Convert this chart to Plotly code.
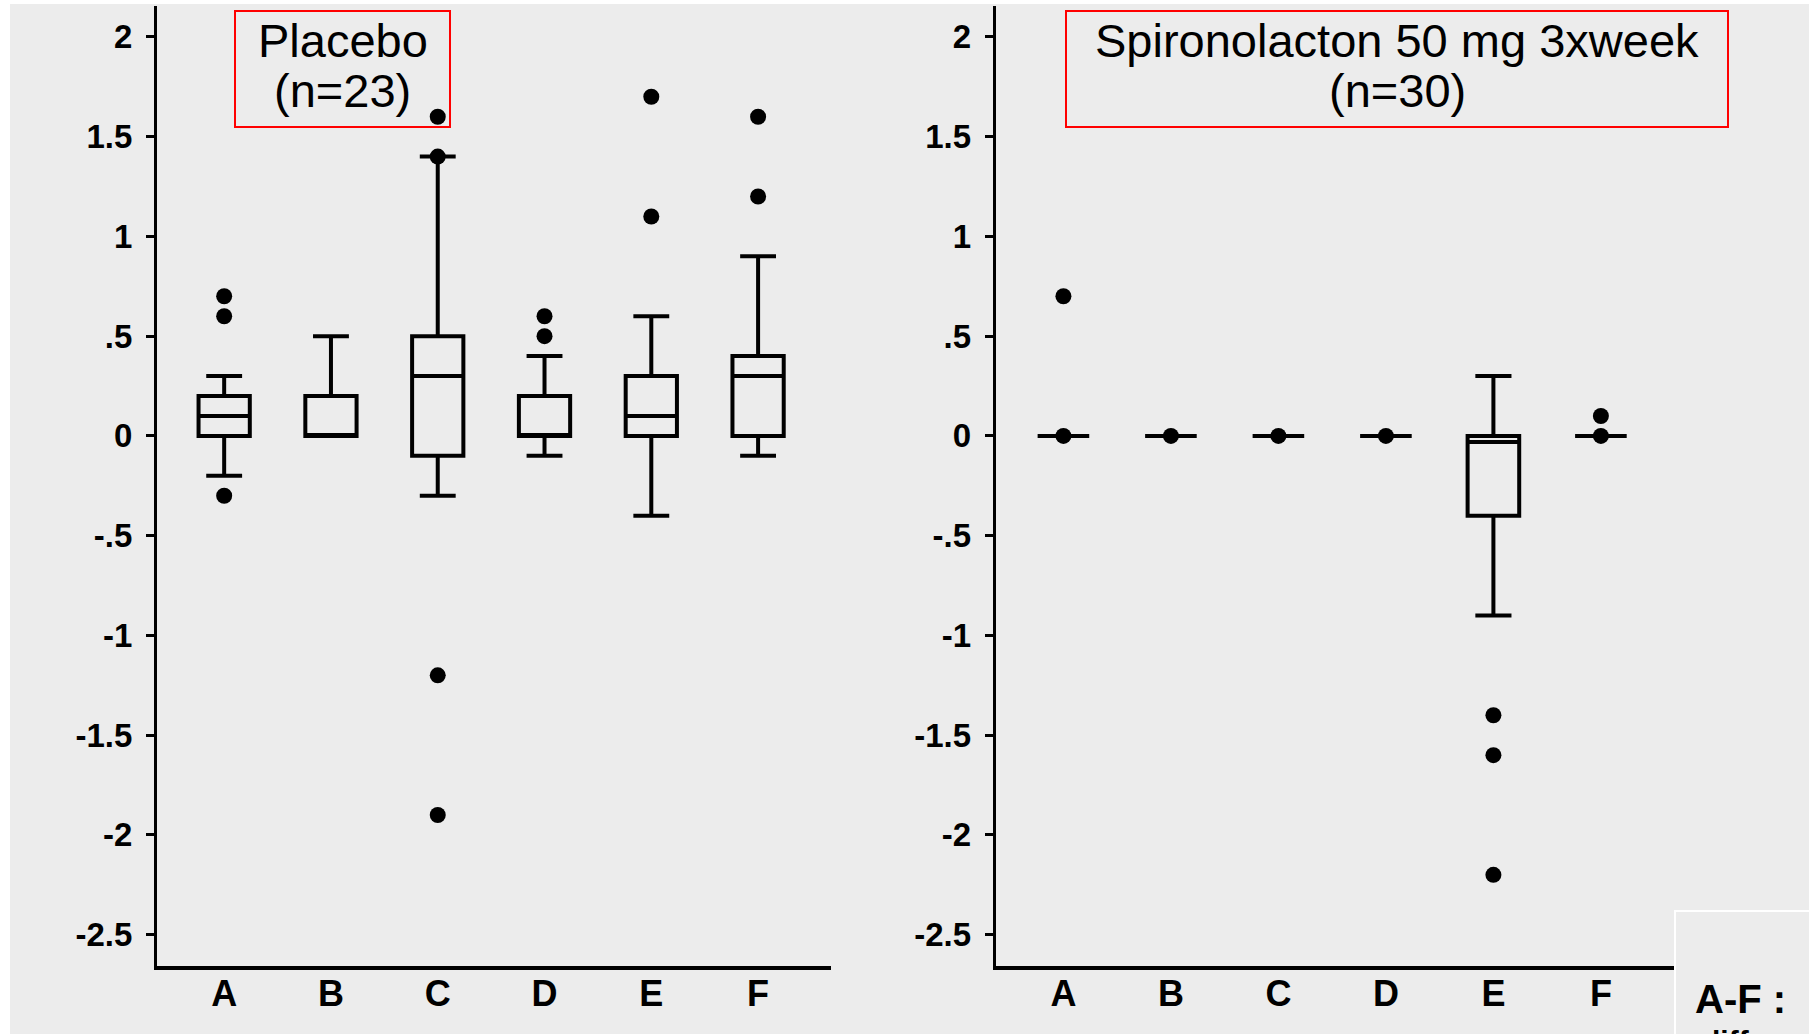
import plotly.graph_objects as go

# ---- data -------------------------------------------------------------
categories = ["A", "B", "C", "D", "E", "F"]

# Placebo group (n=23): box statistics per category
placebo_q1 = [0.0, 0.0, -0.1, 0.0, 0.0, 0.0]
placebo_median = [0.1, 0.0, 0.3, 0.0, 0.1, 0.3]
placebo_q3 = [0.2, 0.2, 0.5, 0.2, 0.3, 0.4]
placebo_lower = [-0.2, 0.0, -0.3, -0.1, -0.4, -0.1]
placebo_upper = [0.3, 0.5, 1.4, 0.4, 0.6, 0.9]
placebo_out_x = ["A", "A", "A", "C", "C", "C", "C", "D", "D", "E", "E", "F", "F"]
placebo_out_y = [0.7, 0.6, -0.3, 1.6, 1.4, -1.2, -1.9, 0.6, 0.5, 1.7, 1.1, 1.6, 1.2]

# Spironolacton group (n=30)
spiro_q1 = [0.0, 0.0, 0.0, 0.0, -0.4, 0.0]
spiro_median = [0.0, 0.0, 0.0, 0.0, -0.03, 0.0]
spiro_q3 = [0.0, 0.0, 0.0, 0.0, 0.0, 0.0]
spiro_lower = [0.0, 0.0, 0.0, 0.0, -0.9, 0.0]
spiro_upper = [0.0, 0.0, 0.0, 0.0, 0.3, 0.0]
spiro_out_x = ["A", "A", "B", "C", "D", "F", "F", "E", "E", "E"]
spiro_out_y = [0.7, 0.0, 0.0, 0.0, 0.0, 0.0, 0.1, -1.4, -1.6, -2.2]

y_tickvals = [2, 1.5, 1, 0.5, 0, -0.5, -1, -1.5, -2, -2.5]
y_ticktext = ["2", "1.5", "1", ".5", "0", "-.5", "-1", "-1.5", "-2", "-2.5"]

panel_titles = [("Placebo", "(n=23)"), ("Spironolacton 50 mg 3xweek", "(n=30)")]

# ---- figure -----------------------------------------------------------
W, H = 1809, 1034
FONT = "Liberation Sans, Arial, Helvetica, sans-serif"
BG = "#ececec"


def px_x(v):
    return v / W


def px_y(v):
    return 1 - v / H


fig = go.Figure()

groups = [
    (placebo_q1, placebo_median, placebo_q3, placebo_lower, placebo_upper,
     placebo_out_x, placebo_out_y, "x", "y"),
    (spiro_q1, spiro_median, spiro_q3, spiro_lower, spiro_upper,
     spiro_out_x, spiro_out_y, "x2", "y2"),
]

for q1, med, q3, lo, hi, ox, oy, xa, ya in groups:
    fig.add_trace(go.Box(
        x=categories, q1=q1, median=med, q3=q3,
        lowerfence=lo, upperfence=hi,
        width=0.48, whiskerwidth=0.7,
        line=dict(color="black", width=4),
        fillcolor="rgba(0,0,0,0)",
        boxpoints=False, showlegend=False,
        xaxis=xa, yaxis=ya,
    ))
    fig.add_trace(go.Scatter(
        x=ox, y=oy, mode="markers",
        marker=dict(color="black", size=16),
        showlegend=False, xaxis=xa, yaxis=ya,
    ))

y_dom = [px_y(965.6), px_y(5.8)]
x_doms = [[px_x(156.9), px_x(830.7)], [px_x(995.7), px_x(1674.0)]]

xaxis_common = dict(
    type="category", categoryorder="array", categoryarray=categories,
    range=[-0.63, 5.68], showline=True, linecolor="black", linewidth=4,
    ticks="", showgrid=False, zeroline=False, ticklabelstandoff=-7,
    tickfont=dict(family=FONT, size=36, color="black", weight="bold"),
)
yaxis_common = dict(
    range=[-2.655, 2.156], domain=y_dom, showline=True, linecolor="black",
    linewidth=3, ticks="outside", ticklen=8, tickwidth=3, tickcolor="black",
    tickvals=y_tickvals, ticktext=y_ticktext, showgrid=False, zeroline=False,
    ticklabelstandoff=7,
    tickfont=dict(family=FONT, size=33, color="black", weight="bold"),
)

fig.update_layout(
    width=W, height=H,
    margin=dict(l=0, r=0, t=0, b=0),
    paper_bgcolor="white", plot_bgcolor="rgba(0,0,0,0)",
    xaxis=dict(xaxis_common, domain=x_doms[0], anchor="y"),
    yaxis=dict(yaxis_common, anchor="x"),
    xaxis2=dict(xaxis_common, domain=x_doms[1], anchor="y2"),
    yaxis2=dict(yaxis_common, anchor="x2"),
)

shapes = [
    # grey page background with thin white strip at left/top
    dict(type="rect", xref="paper", yref="paper", x0=px_x(10), x1=1.0,
         y0=0.0, y1=px_y(4), fillcolor=BG, line=dict(width=0), layer="below"),
    # red title frames
    dict(type="rect", xref="paper", yref="paper", x0=px_x(235), x1=px_x(450),
         y0=px_y(127), y1=px_y(11), line=dict(color="#ff0000", width=2)),
    dict(type="rect", xref="paper", yref="paper", x0=px_x(1066), x1=px_x(1728),
         y0=px_y(127), y1=px_y(11), line=dict(color="#ff0000", width=2)),
    # white frame of the footnote box in the corner
    dict(type="rect", xref="paper", yref="paper", x0=px_x(1675), x1=1.02,
         y0=-0.02, y1=px_y(911), line=dict(color="white", width=2)),
]
fig.update_layout(shapes=shapes)

annotations = []
centers = [342.5, 1397.0]
for (line1, line2), cx in zip(panel_titles, centers):
    annotations.append(dict(
        text=line1, xref="paper", yref="paper", x=px_x(cx), y=px_y(41),
        xanchor="center", yanchor="middle", showarrow=False,
        font=dict(family=FONT, size=47, color="black"),
    ))
    annotations.append(dict(
        text=line2, xref="paper", yref="paper", x=px_x(cx), y=px_y(90),
        xanchor="center", yanchor="middle", showarrow=False,
        font=dict(family=FONT, size=47, color="black"),
    ))

annotations.append(dict(
    text="A-F :", xref="paper", yref="paper", x=px_x(1693), y=px_y(999),
    xanchor="left", yanchor="middle", showarrow=False,
    font=dict(family=FONT, size=40, color="black", weight="bold"),
))
annotations.append(dict(
    text="differences", xref="paper", yref="paper", x=px_x(1700), y=px_y(1041),
    xanchor="left", yanchor="middle", showarrow=False,
    font=dict(family=FONT, size=30, color="black", weight="bold"),
))
fig.update_layout(annotations=annotations)

fig.write_html("out.html")
